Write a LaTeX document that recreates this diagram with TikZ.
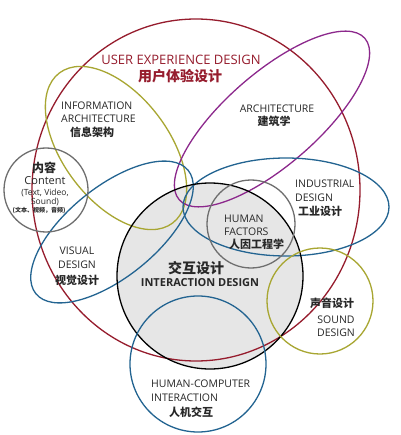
\documentclass[tikz,border=0pt]{standalone}
\usepackage{fontspec}
\usetikzlibrary{shapes.geometric}
\setmainfont{Open Sans}
\newfontfamily\cjk{Noto Sans CJK SC}
\definecolor{uxred}{RGB}{150,28,45}
\definecolor{olivec}{RGB}{168,166,50}
\definecolor{purplec}{RGB}{140,40,140}
\definecolor{bluec}{RGB}{35,100,145}
\definecolor{grayc}{RGB}{110,110,110}
\definecolor{fillc}{RGB}{230,230,230}
\definecolor{txt}{RGB}{40,40,40}
\newcommand{\fs}[1]{\fontsize{#1}{#1}\selectfont}
\begin{document}
\begin{tikzpicture}[x=1pt,y=-1pt,
  ring/.style={draw, line width=1.3pt, inner sep=0pt, outer sep=0pt},
  ell/.style={ring, ellipse},
  circ/.style={ring, circle},
  en/.style={inner sep=0pt, text=txt, font=\fs{10.5}},
  zh/.style={inner sep=0pt, text=txt, font=\cjk\bfseries\fs{11}}]
\useasboundingbox[fill=white] (0,0) rectangle (400,435);
% grey fill of interaction design
\node[circle, fill=fillc, minimum size=186pt, inner sep=0pt] (ixfill) at (210,276) {};
% outlines
\node[ell, draw=uxred, minimum width=328pt, minimum height=342pt] (ux) at (196,190) {};
\node[ell, draw=olivec, minimum width=188pt, minimum height=106pt, rotate=-53] (ia) at (116,148) {};
\node[ell, draw=purplec, minimum width=246pt, minimum height=92pt, rotate=41] (arch) at (272,119) {};
\node[ell, draw=bluec, minimum width=196pt, minimum height=90pt, rotate=39] (vd) at (112,232) {};
\node[ell, draw=bluec, minimum width=206pt, minimum height=98pt] (ind) at (286,207) {};
\node[circ, draw=grayc, minimum size=84pt] (content) at (46,190) {};
\node[circ, draw=black, minimum size=186pt] (ix) at (210,276) {};
\node[circ, draw=grayc, minimum size=88pt] (hf) at (251,224) {};
\node[circ, draw=olivec, minimum size=106pt] (sound) at (320,301) {};
\node[circ, draw=bluec, minimum size=136pt] (hci) at (198,364) {};
% labels
\node[en, text=uxred, font=\fs{13}] (uxt1) at (181,60) {USER EXPERIENCE DESIGN};
\node[zh, text=uxred, font=\cjk\bfseries\fs{14}] (uxt2) at (180,76) {用户体验设计};
\node[en, anchor=west] (ia1) at (61,106) {INFORMATION};
\node[en, anchor=west] (ia2) at (61,119) {ARCHITECTURE};
\node[zh] (ia3) at (92,132) {信息架构};
\node[en] (ar1) at (277,109) {ARCHITECTURE};
\node[zh] (ar2) at (274,121) {建筑学};
\node[zh, font=\cjk\bfseries\fs{12}] (ct1) at (44,168) {内容};
\node[en, font=\fs{11}] (ct2) at (45,181) {Content};
\node[en, font=\fs{8.5}] (ct3) at (45,193) {(Text, Video,};
\node[en, font=\fs{8.5}] (ct4) at (45,202) {Sound)};
\node[zh, font=\cjk\bfseries\fs{6}] (ct5) at (39,211) {(文本、视频，音频)};
\node[en, anchor=west] (in1) at (295,184) {INDUSTRIAL};
\node[en, anchor=west] (in2) at (295,198) {DESIGN};
\node[zh, anchor=west] (in3) at (298,211) {工业设计};
\node[en, anchor=west] (hf1) at (224,219) {HUMAN};
\node[en, anchor=west] (hf2) at (224,232) {FACTORS};
\node[zh, anchor=west] (hf3) at (229,244) {人因工程学};
\node[en] (vd1) at (77,251) {VISUAL};
\node[en] (vd2) at (77,265) {DESIGN};
\node[zh] (vd3) at (77,280) {视觉设计};
\node[zh, font=\cjk\bfseries\fs{14}] (ix1) at (196,268) {交互设计};
\node[en, font=\bfseries\fs{11}] (ix2) at (200,283) {INTERACTION DESIGN};
\node[zh] (sd1) at (332,303) {声音设计};
\node[en] (sd2) at (336,320) {SOUND};
\node[en] (sd3) at (336,333) {DESIGN};
\node[en, anchor=west] (hc1) at (151,384) {HUMAN-COMPUTER};
\node[en, anchor=west] (hc2) at (151,398) {INTERACTION};
\node[zh] (hc3) at (191,412) {人机交互};
\end{tikzpicture}
\end{document}
